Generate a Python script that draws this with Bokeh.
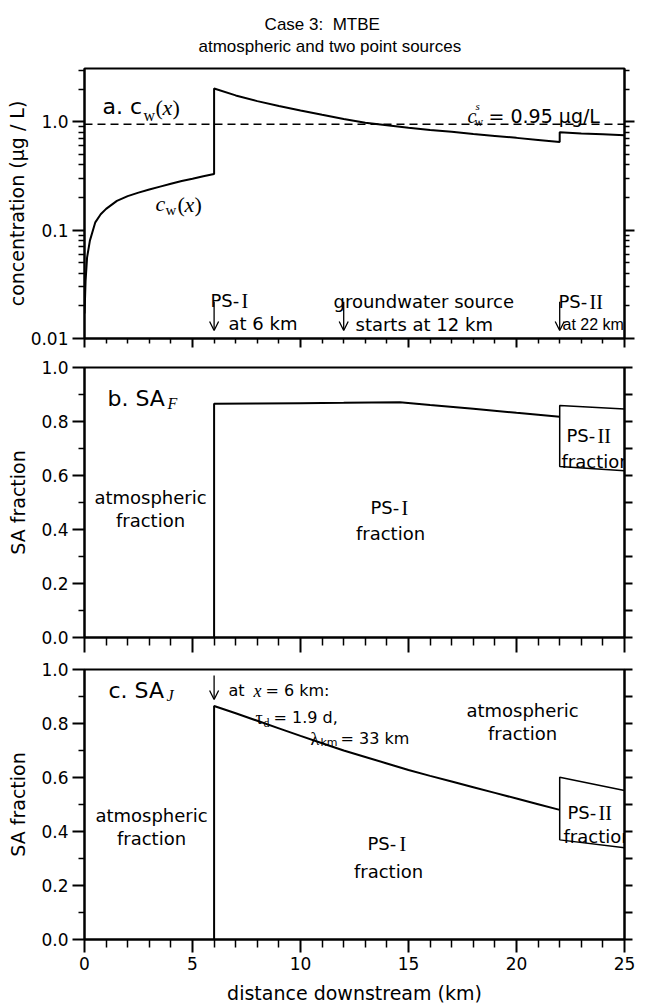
import math
from bokeh.plotting import figure
from bokeh.models import (Range1d, LogAxis, LinearAxis, FixedTicker, Label, Span, Arrow,
                          OpenHead, CustomJSTickFormatter, Title)
from bokeh.layouts import column
from bokeh.embed import file_html
from bokeh.resources import INLINE
from bokeh.core.properties import value

# ---------------- data ----------------
x_cw = [0.0, 0.02, 0.05, 0.12, 0.25, 0.5, 0.75, 1.0, 1.5, 2.0, 2.5, 3.0, 3.5, 4.0, 4.5, 5.0, 5.5, 6.0,
        6.0, 7.0, 8.0, 9.0, 10.0, 11.0, 12.0, 13.0, 14.0, 15.0, 16.0, 17.0, 18.0, 19.0, 20.0, 21.0, 22.0,
        22.0, 23.0, 24.0, 25.0]
cw = [0.017, 0.022, 0.034, 0.056, 0.080, 0.118, 0.140, 0.157, 0.186, 0.206, 0.222, 0.237, 0.252, 0.268, 0.284, 0.298, 0.314, 0.330,
      2.03, 1.75, 1.55, 1.40, 1.27, 1.16, 1.06, 0.98, 0.93, 0.88, 0.84, 0.81, 0.77, 0.74, 0.71, 0.68, 0.65,
      0.80, 0.78, 0.765, 0.75]
cw_std = 0.95

saf_x = [6.0, 6.0, 8.0, 10.0, 12.0, 14.6, 16.0, 18.0, 20.0, 22.0]
saf = [0.0, 0.866, 0.867, 0.868, 0.869, 0.871, 0.861, 0.847, 0.832, 0.818]

saj_x = [6.0, 6.0, 7.0, 8.0, 9.0, 10.0, 11.0, 12.0, 13.0, 14.0, 15.0, 16.0, 17.0, 18.0, 19.0, 20.0, 21.0, 22.0]
saj = [0.0, 0.865, 0.838, 0.810, 0.782, 0.754, 0.727, 0.700, 0.676, 0.652, 0.628, 0.606, 0.585, 0.564, 0.543, 0.522, 0.501, 0.480]

psII_x = [25.0, 22.0, 22.0, 25.0]
psII_saf = [0.846, 0.859, 0.633, 0.618]
psII_saj = [0.552, 0.601, 0.369, 0.340]

src_x = [6.0, 12.0, 22.0]

x_ticks = [0, 5, 10, 15, 20, 25]
x_minor = [1, 2, 3, 4, 6, 7, 8, 9, 11, 12, 13, 14, 16, 17, 18, 19, 21, 22, 23, 24]
cw_ticks = [0.01, 0.1, 1.0]
cw_tick_labels = ["0.01", "0.1", "1.0"]
cw_minor = [0.02, 0.03, 0.04, 0.05, 0.06, 0.07, 0.08, 0.09,
            0.2, 0.3, 0.4, 0.5, 0.6, 0.7, 0.8, 0.9, 2.0, 3.0]
sa_ticks = [0.0, 0.2, 0.4, 0.6, 0.8, 1.0]
sa_tick_labels = ["0.0", "0.2", "0.4", "0.6", "0.8", "1.0"]
sa_minor = [0.1, 0.3, 0.5, 0.7, 0.9]
sa_right = [0.0, 0.1, 0.2, 0.3, 0.4, 0.5, 0.6, 0.7, 0.8, 0.9, 1.0]

title_lines = ["Case 3:  MTBE", "atmospheric and two point sources"]

CW_MIN, CW_MAX = 0.01, 3.1

# -------------- geometry helpers (page px -> data) --------------
def xd(xp):
    return (xp - 84) / 540 * 25

def ya(yp):
    lo, hi = math.log10(CW_MIN), math.log10(CW_MAX)
    return 10 ** (lo + (338 - yp) / 271 * (hi - lo))

def yb(yp):
    return (637 - yp) / 270

def yc(yp):
    return (939 - yp) / 270

SANS = "DejaVu Sans"
SERIF = "Liberation Serif"

def lab(p, xp, y, text, size, font=SANS, style="normal", align="left"):
    p.add_layout(Label(x=xd(xp), y=y, text=text, text_font=font,
                       text_font_size=f"{size}px", text_font_style=style,
                       text_align=align, text_baseline="alphabetic",
                       text_color="black"))

def style_axis(ax, out_major, out_minor, labels=True, size="17px"):
    ax.axis_line_width = 2
    ax.axis_line_color = "black"
    ax.major_tick_line_width = 2
    ax.minor_tick_line_width = 1.5
    ax.major_tick_line_color = "black"
    ax.minor_tick_line_color = "black"
    ax.major_tick_in = 0
    ax.minor_tick_in = 0
    ax.major_tick_out = out_major
    ax.minor_tick_out = out_minor
    ax.major_label_text_font = SANS
    ax.major_label_text_color = "black"
    ax.axis_label_text_font = SANS
    ax.axis_label_text_font_style = "normal"
    ax.axis_label_text_font_size = "19px"
    ax.axis_label_text_color = "black"
    if labels:
        ax.major_label_text_font_size = size
        ax.major_label_standoff = 4
    else:
        ax.formatter = CustomJSTickFormatter(code="return ''")
        ax.major_label_text_font_size = "2px"
        ax.major_label_standoff = 0

def base_fig(height, y_range, top, bottom, log=False):
    p = figure(width=652, height=height, x_range=Range1d(0, 25), y_range=y_range,
               y_axis_type="log" if log else "linear",
               output_backend="svg", toolbar_location=None,
               min_border_left=84, min_border_right=28,
               min_border_top=top, min_border_bottom=bottom)
    p.grid.visible = False
    p.outline_line_color = "black"
    p.outline_line_width = 2
    p.outline_line_alpha = 1.0
    p.background_fill_color = "white"
    p.border_fill_color = "white"
    return p

# ================= panel a =================
pA = base_fig(352, Range1d(CW_MIN, CW_MAX), 67, 14, log=True)
ay = pA.yaxis[0]
ay.ticker = FixedTicker(ticks=cw_ticks, minor_ticks=cw_minor)
ay.major_label_overrides = dict(zip(cw_ticks, cw_tick_labels))
style_axis(ay, 12, 6)
ay.axis_label = "concentration (µg / L)"
ay.axis_label_standoff = 0
ax = pA.xaxis[0]
ax.ticker = FixedTicker(ticks=x_ticks, minor_ticks=x_minor)
style_axis(ax, 9, 5, labels=False)
ra = LogAxis(ticker=FixedTicker(ticks=cw_ticks, minor_ticks=cw_minor))
style_axis(ra, 10, 5, labels=False)
pA.add_layout(ra, "right")

# two-line title, first line padded with no-break spaces so both lines look centred
line1 = title_lines[0].replace("  ", "\u00a0 ")
title_text = "\u00a0" * 14 + line1 + "\n" + title_lines[1]
pA.add_layout(Title(text=title_text, align="left", offset=114, standoff=24,
                    text_font="Liberation Sans", text_font_size="17px",
                    text_font_style="normal", text_color="black", text_line_height=1.2),
              "above")

pA.add_layout(Span(location=cw_std, dimension="width", line_color="black",
                   line_width=1.5, line_dash="8 5"))
pA.line(x_cw, cw, line_color="black", line_width=2)

for xs in src_x:
    pA.add_layout(Arrow(end=OpenHead(size=9, line_width=1.3, line_color="black"),
                        x_start=xs, y_start=ya(301), x_end=xs, y_end=ya(330),
                        line_width=1.3, line_color="black"))

lab(pA, 102, ya(105), "a. c", 22)
lab(pA, 143, ya(114), "w", 16, font=SERIF)
lab(pA, 155, ya(106), "(", 22, font=SERIF)
lab(pA, 162, ya(106), "x", 22, font=SERIF, style="italic")
lab(pA, 172, ya(106), ")", 22, font=SERIF)

lab(pA, 155, ya(203), "c", 22, font=SERIF, style="italic")
lab(pA, 165, ya(209), "w", 15, font=SERIF)
lab(pA, 177, ya(204), "(", 22, font=SERIF)
lab(pA, 184, ya(204), "x", 22, font=SERIF, style="italic")
lab(pA, 194, ya(204), ")", 22, font=SERIF)

lab(pA, 467, ya(115), "c", 20, font=SERIF, style="italic")
lab(pA, 475, ya(105), "s", 11, font=SERIF, style="italic")
lab(pA, 474, ya(121), "w", 12, font=SERIF)
lab(pA, 488, ya(115), "= 0.95 µg/L", 19)

lab(pA, 210, ya(300), "PS-", 18)
lab(pA, 241, ya(300), "I", 20, font=SERIF)
lab(pA, 228, ya(323), "at 6 km", 18)
lab(pA, 333, ya(301), "groundwater source", 18)
lab(pA, 355, ya(324), "starts at 12 km", 18)
lab(pA, 558, ya(301), "PS-", 18)
lab(pA, 589, ya(301), "II", 20, font=SERIF)
lab(pA, 562, ya(324), "at 22 km", 16, font="Liberation Sans")

# ================= panel b =================
pB = base_fig(301, Range1d(0, 1), 15, 16)
by = pB.yaxis[0]
by.ticker = FixedTicker(ticks=sa_ticks, minor_ticks=sa_minor)
by.major_label_overrides = dict(zip(sa_ticks, sa_tick_labels))
style_axis(by, 12, 6)
by.axis_label = "SA fraction"
by.axis_label_standoff = 9
bx = pB.xaxis[0]
bx.ticker = FixedTicker(ticks=x_ticks, minor_ticks=x_minor)
style_axis(bx, 15, 8, labels=False)
rb = LinearAxis(ticker=FixedTicker(ticks=sa_right, minor_ticks=[]))
style_axis(rb, 8, 0, labels=False)
pB.add_layout(rb, "right")

pB.line(saf_x, saf, line_color="black", line_width=2)
pB.line(psII_x, psII_saf, line_color="black", line_width=1.5)

lab(pB, 107, yb(398), "b. SA", 22)
lab(pB, 167, yb(403), "F", 16, font=SERIF, style="italic")
lab(pB, 150, yb(497), "atmospheric", 18, align="center")
lab(pB, 150, yb(520), "fraction", 18, align="center")
lab(pB, 370, yb(507), "PS-", 18)
lab(pB, 401, yb(507), "I", 20, font=SERIF)
lab(pB, 390, yb(533), "fraction", 18, align="center")
lab(pB, 566, yb(435), "PS-", 18)
lab(pB, 597, yb(435), "II", 20, font=SERIF)
pB.text(x=[xd(561)], y=[yb(461)], text=["fraction"], text_font=value(SANS),
        text_font_size="18px", text_baseline="alphabetic", text_color="black")

# ================= panel c =================
pC = base_fig(353, Range1d(0, 1), 16, 67)
cy = pC.yaxis[0]
cy.ticker = FixedTicker(ticks=sa_ticks, minor_ticks=sa_minor)
cy.major_label_overrides = dict(zip(sa_ticks, sa_tick_labels))
style_axis(cy, 12, 6)
cy.axis_label = "SA fraction"
cy.axis_label_standoff = 9
cx = pC.xaxis[0]
cx.ticker = FixedTicker(ticks=x_ticks, minor_ticks=x_minor)
style_axis(cx, 13, 8)
cx.axis_label = "distance downstream (km)"
cx.axis_label_standoff = 9
rc = LinearAxis(ticker=FixedTicker(ticks=sa_right, minor_ticks=[]))
style_axis(rc, 8, 0, labels=False)
pC.add_layout(rc, "right")

pC.line(saj_x, saj, line_color="black", line_width=2)
pC.line(psII_x, psII_saj, line_color="black", line_width=1.5)
pC.add_layout(Arrow(end=OpenHead(size=9, line_width=1.3, line_color="black"),
                    x_start=src_x[0], y_start=yc(675), x_end=src_x[0], y_end=yc(699),
                    line_width=1.3, line_color="black"))

lab(pC, 108, yc(690), "c. SA", 22)
lab(pC, 166, yc(695), "J", 16, font=SERIF, style="italic")
lab(pC, 228, yc(690), "at", 16)
lab(pC, 253, yc(690), "x", 18, font=SERIF, style="italic")
lab(pC, 265, yc(690), "= 6 km:", 16)
lab(pC, 255, yc(717), "τ", 18, font=SERIF)
lab(pC, 263, yc(722), "d", 12, font=SERIF)
lab(pC, 273, yc(717), "= 1.9 d,", 16)
lab(pC, 310, yc(738), "λ", 18, font=SERIF)
lab(pC, 320, yc(742), "km", 11)
lab(pC, 340, yc(738), "= 33 km", 16)
lab(pC, 522, yc(710), "atmospheric", 18, align="center")
lab(pC, 522, yc(733), "fraction", 18, align="center")
lab(pC, 151, yc(815), "atmospheric", 18, align="center")
lab(pC, 151, yc(838), "fraction", 18, align="center")
lab(pC, 367, yc(843), "PS-", 18)
lab(pC, 399, yc(843), "I", 20, font=SERIF)
lab(pC, 388, yc(871), "fraction", 18, align="center")
lab(pC, 567, yc(812), "PS-", 18)
lab(pC, 598, yc(812), "II", 20, font=SERIF)
pC.text(x=[xd(563)], y=[yc(836)], text=["fraction"], text_font=value(SANS),
        text_font_size="18px", text_baseline="alphabetic", text_color="black")

layout = column(pA, pB, pC, spacing=0)
open("out.html", "w").write(file_html(layout, INLINE))
